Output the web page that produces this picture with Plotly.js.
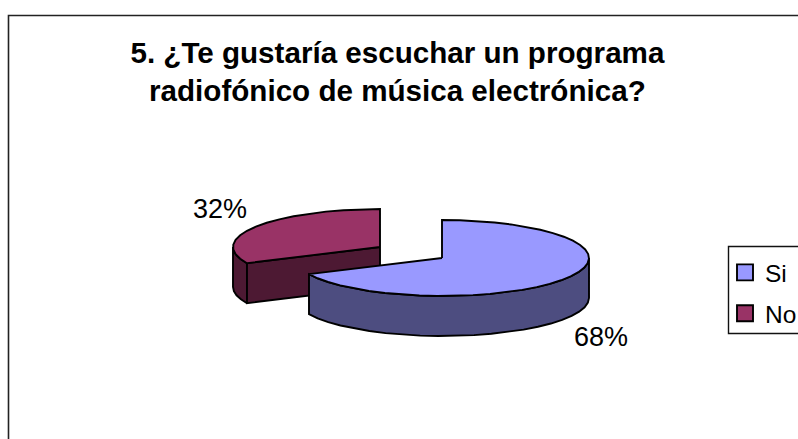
<!DOCTYPE html>
<html>
<head>
<meta charset="utf-8">
<script src="https://cdn.plot.ly/plotly-3.0.1.min.js"></script>
<style>html,body{margin:0;padding:0;background:#fff;overflow:hidden}</style>
</head>
<body>
<div id="chart" style="width:798px;height:439px"></div>
<script>
const categories = ['Si', 'No'];
const shares = [68, 32];
const topColors = ['#9999ff', '#993366'];
const wallColors = ['#4d4d80', '#4d1933'];
const chartTitle = '5. ¿Te gustaría escuchar un programa<br>radiofónico de música electrónica?';

// Tilted-disc geometry, in axis units
const RX = 147, RY = 38, DEPTH = 40, FACET = 7;
const centres = [{x: 442, y: 258}, {x: 380, y: 247}];

const total = shares.reduce((a, b) => a + b, 0);
const startAngles = shares.map((_, i) => shares.slice(0, i).reduce((a, b) => a + b, 0) / total * 360);
const endAngles = shares.map((s, i) => startAngles[i] + s / total * 360);

// Point on the rim, angle measured clockwise from twelve o'clock
function rim(c, deg, drop) {
  const t = deg * Math.PI / 180;
  return [c.x + RX * Math.sin(t), c.y - RY * Math.cos(t) + (drop || 0)];
}
function arc(c, from, to, drop) {
  const n = Math.max(1, Math.round(Math.abs(to - from) / FACET));
  const pts = [];
  for (let i = 0; i <= n; i++) pts.push(rim(c, from + (to - from) * i / n, drop));
  return pts;
}
function face(points, color) {
  const closed = points.concat([points[0]]);
  return {
    x: closed.map(p => p[0]), y: closed.map(p => p[1]),
    type: 'scatter', mode: 'lines', fill: 'toself', fillcolor: color,
    line: {color: '#000', width: 1.9, shape: 'linear'},
    showlegend: false, hoverinfo: 'skip'
  };
}
function outerWall(i) {
  const from = Math.max(startAngles[i], 90), to = Math.min(endAngles[i], 270);
  if (to <= from) return null;
  const c = centres[i];
  return face(arc(c, from, to, 0).concat(arc(c, to, from, DEPTH)), wallColors[i]);
}
function topFace(i) {
  const c = centres[i];
  return face([[c.x, c.y]].concat(arc(c, startAngles[i], endAngles[i], 0)), topColors[i]);
}
// Cut face of the second slice, seen from the front
function cutFace(i) {
  const c = centres[i], tip = rim(c, startAngles[i], 0);
  return face([[c.x, c.y], tip, [tip[0], tip[1] + DEPTH], [c.x, c.y + DEPTH]], wallColors[i]);
}

const traces = [outerWall(1), cutFace(1), topFace(1), outerWall(0), topFace(0)].filter(Boolean);

// Legend entries
categories.forEach((name, i) => traces.push({
  x: [null], y: [null], type: 'scatter', mode: 'markers', name: name,
  legendgroup: name,
  marker: {symbol: 'square', size: 16, color: topColors[i], line: {color: '#000', width: 1.9}}
}));

const font = 'Liberation Sans, Arial, sans-serif';
const labelPositions = [{x: 601, y: 337}, {x: 220, y: 209}];

const layout = {
  width: 798, height: 439,
  margin: {l: 0, r: 0, t: 0, b: 0, autoexpand: false},
  paper_bgcolor: '#fff', plot_bgcolor: '#fff',
  font: {family: font, color: '#000'},
  title: {
    text: chartTitle,
    font: {family: font, size: 29.6, color: '#000', weight: 700},
    x: 0.498, xanchor: 'center', xref: 'paper',
    y: 0.857, yanchor: 'top', yref: 'paper',
    pad: {t: 0, b: 0}
  },
  xaxis: {range: [0, 798], visible: false, fixedrange: true},
  yaxis: {range: [439, 0], visible: false, fixedrange: true},
  showlegend: true,
  legend: {
    x: 725 / 798, xanchor: 'left', y: 1 - 250 / 439, yanchor: 'top',
    bgcolor: 'rgba(0,0,0,0)', borderwidth: 0,
    font: {family: font, size: 24.5, color: '#000'},
    tracegroupgap: 6, traceorder: 'grouped', itemclick: false, itemdoubleclick: false
  },
  shapes: [{
    type: 'path', xref: 'x', yref: 'y',
    path: 'M8.5,445 L8.5,15.5 L805,15.5',
    line: {color: '#222', width: 1.6}
  }, {
    // Legend frame, open past the right edge
    type: 'rect', xref: 'x', yref: 'y', x0: 728.5, x1: 805, y0: 246.5, y1: 333.5,
    fillcolor: '#fff', line: {color: '#111', width: 1.4}
  }],
  annotations: shares.map((s, i) => ({
    text: s + '%', x: labelPositions[i].x, y: labelPositions[i].y,
    xref: 'x', yref: 'y', showarrow: false,
    xanchor: 'center', yanchor: 'middle',
    font: {family: font, size: 27, color: '#000'}
  }))
};

Plotly.newPlot('chart', traces, layout, {displayModeBar: false, staticPlot: true});
</script>
</body>
</html>
